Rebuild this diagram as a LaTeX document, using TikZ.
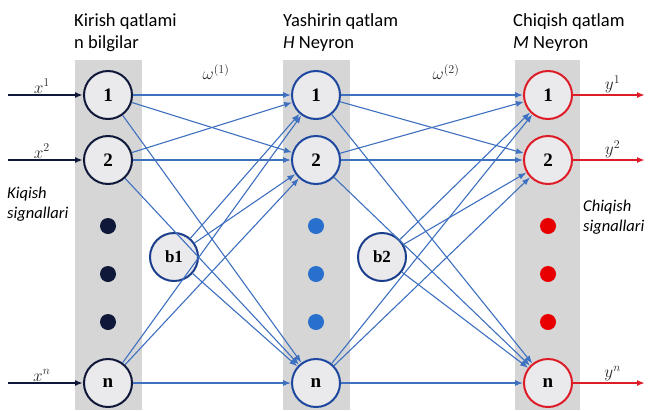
\documentclass[tikz,border=0pt]{standalone}
\usepackage{fontspec}
\setmainfont{Liberation Serif}
\setsansfont{Carlito}
\usetikzlibrary{arrows.meta}

\definecolor{colgray}{RGB}{214,214,214}
\definecolor{nodegray}{RGB}{234,234,236}
\definecolor{navy}{RGB}{16,24,58}
\definecolor{hidblue}{RGB}{30,72,160}
\definecolor{outred}{RGB}{222,28,40}
\definecolor{linkblue}{RGB}{62,112,192}
\definecolor{dotblue}{RGB}{40,112,204}
\definecolor{dotred}{RGB}{232,0,0}

\tikzset{
  neuron/.style={circle, minimum size=48pt, inner sep=0pt, line width=2pt,
    fill=nodegray, font=\fontsize{19}{19}\selectfont\bfseries},
  bias/.style={neuron, draw=hidblue!80!navy, font=\fontsize{17}{17}\selectfont\bfseries},
  link/.style={linkblue, line width=1.1pt, -{Latex[length=8pt,width=6pt]}},
  inlink/.style={navy, line width=2pt, -{Latex[length=8pt,width=6pt]}},
  outlink/.style={outred, line width=2pt, -{Latex[length=8pt,width=6pt]}},
  title/.style={anchor=north west, align=left, inner sep=0pt,
    font=\fontsize{18.5}{22}\selectfont\sffamily},
  side/.style={anchor=north west, align=left, inner sep=0pt,
    font=\fontsize{16.5}{20}\selectfont\sffamily\itshape},
  sig/.style={font=\fontsize{18}{18}\selectfont, inner sep=1pt, text=black!85}
}

\begin{document}
\begin{tikzpicture}[x=1pt, y=-1pt]
  \useasboundingbox (0,0) rectangle (652,410);

  % layer columns
  \fill[colgray] (75,60) rectangle (142,410);
  \fill[colgray] (283,60) rectangle (350,410);
  \fill[colgray] (515,60) rectangle (580,410);

  % neurons
  \foreach \i/\y in {1/95, 2/160, n/383} {
    \node[neuron, draw=navy] (i\i) at (108,\y) {\i};
    \node[neuron, draw=hidblue] (h\i) at (316,\y) {\i};
    \node[neuron, draw=outred] (o\i) at (548,\y) {\i};
  }
  \foreach \y in {226, 274, 322} {
    \fill[navy] (108,\y) circle (8);
    \fill[dotblue] (316,\y) circle (8);
    \fill[dotred] (548,\y) circle (8);
  }
  \node[bias] (b1) at (174,257) {b1};
  \node[bias] (b2) at (382,257) {b2};

  % weights
  \foreach \a in {1,2,n} {
    \foreach \b in {1,2,n} {
      \draw[link] (i\a) -- (h\b);
      \draw[link] (h\a) -- (o\b);
    }
    \draw[link] (b1) -- (h\a);
    \draw[link] (b2) -- (o\a);
  }
  \node[sig] (w1) at (216,72) {$\omega^{(1)}$};
  \node[sig] (w2) at (446,72) {$\omega^{(2)}$};

  % inputs and outputs
  \foreach \i/\y in {1/95, 2/160, n/383} {
    \coordinate (x\i) at (8,\y);
    \coordinate (y\i) at (645,\y);
    \draw[inlink] (x\i) -- node[sig, above, pos=0.45] {$x^\i$} (i\i);
    \draw[outlink] (o\i) -- node[sig, above, pos=0.55] {$y^\i$} (y\i);
  }

  % titles
  \node[title] (t1) at (74,13) {Kirish qatlami\\n bilgilar};
  \node[title] (t2) at (283,13) {Yashirin qatlam\\\textit{H} Neyron};
  \node[title] (t3) at (513,13) {Chiqish qatlam\\\textit{M} Neyron};
  \node[side] (s1) at (7,187) {Kiqish\\signallari};
  \node[side] (s2) at (583,200) {Chiqish\\signallari};
\end{tikzpicture}
\end{document}
